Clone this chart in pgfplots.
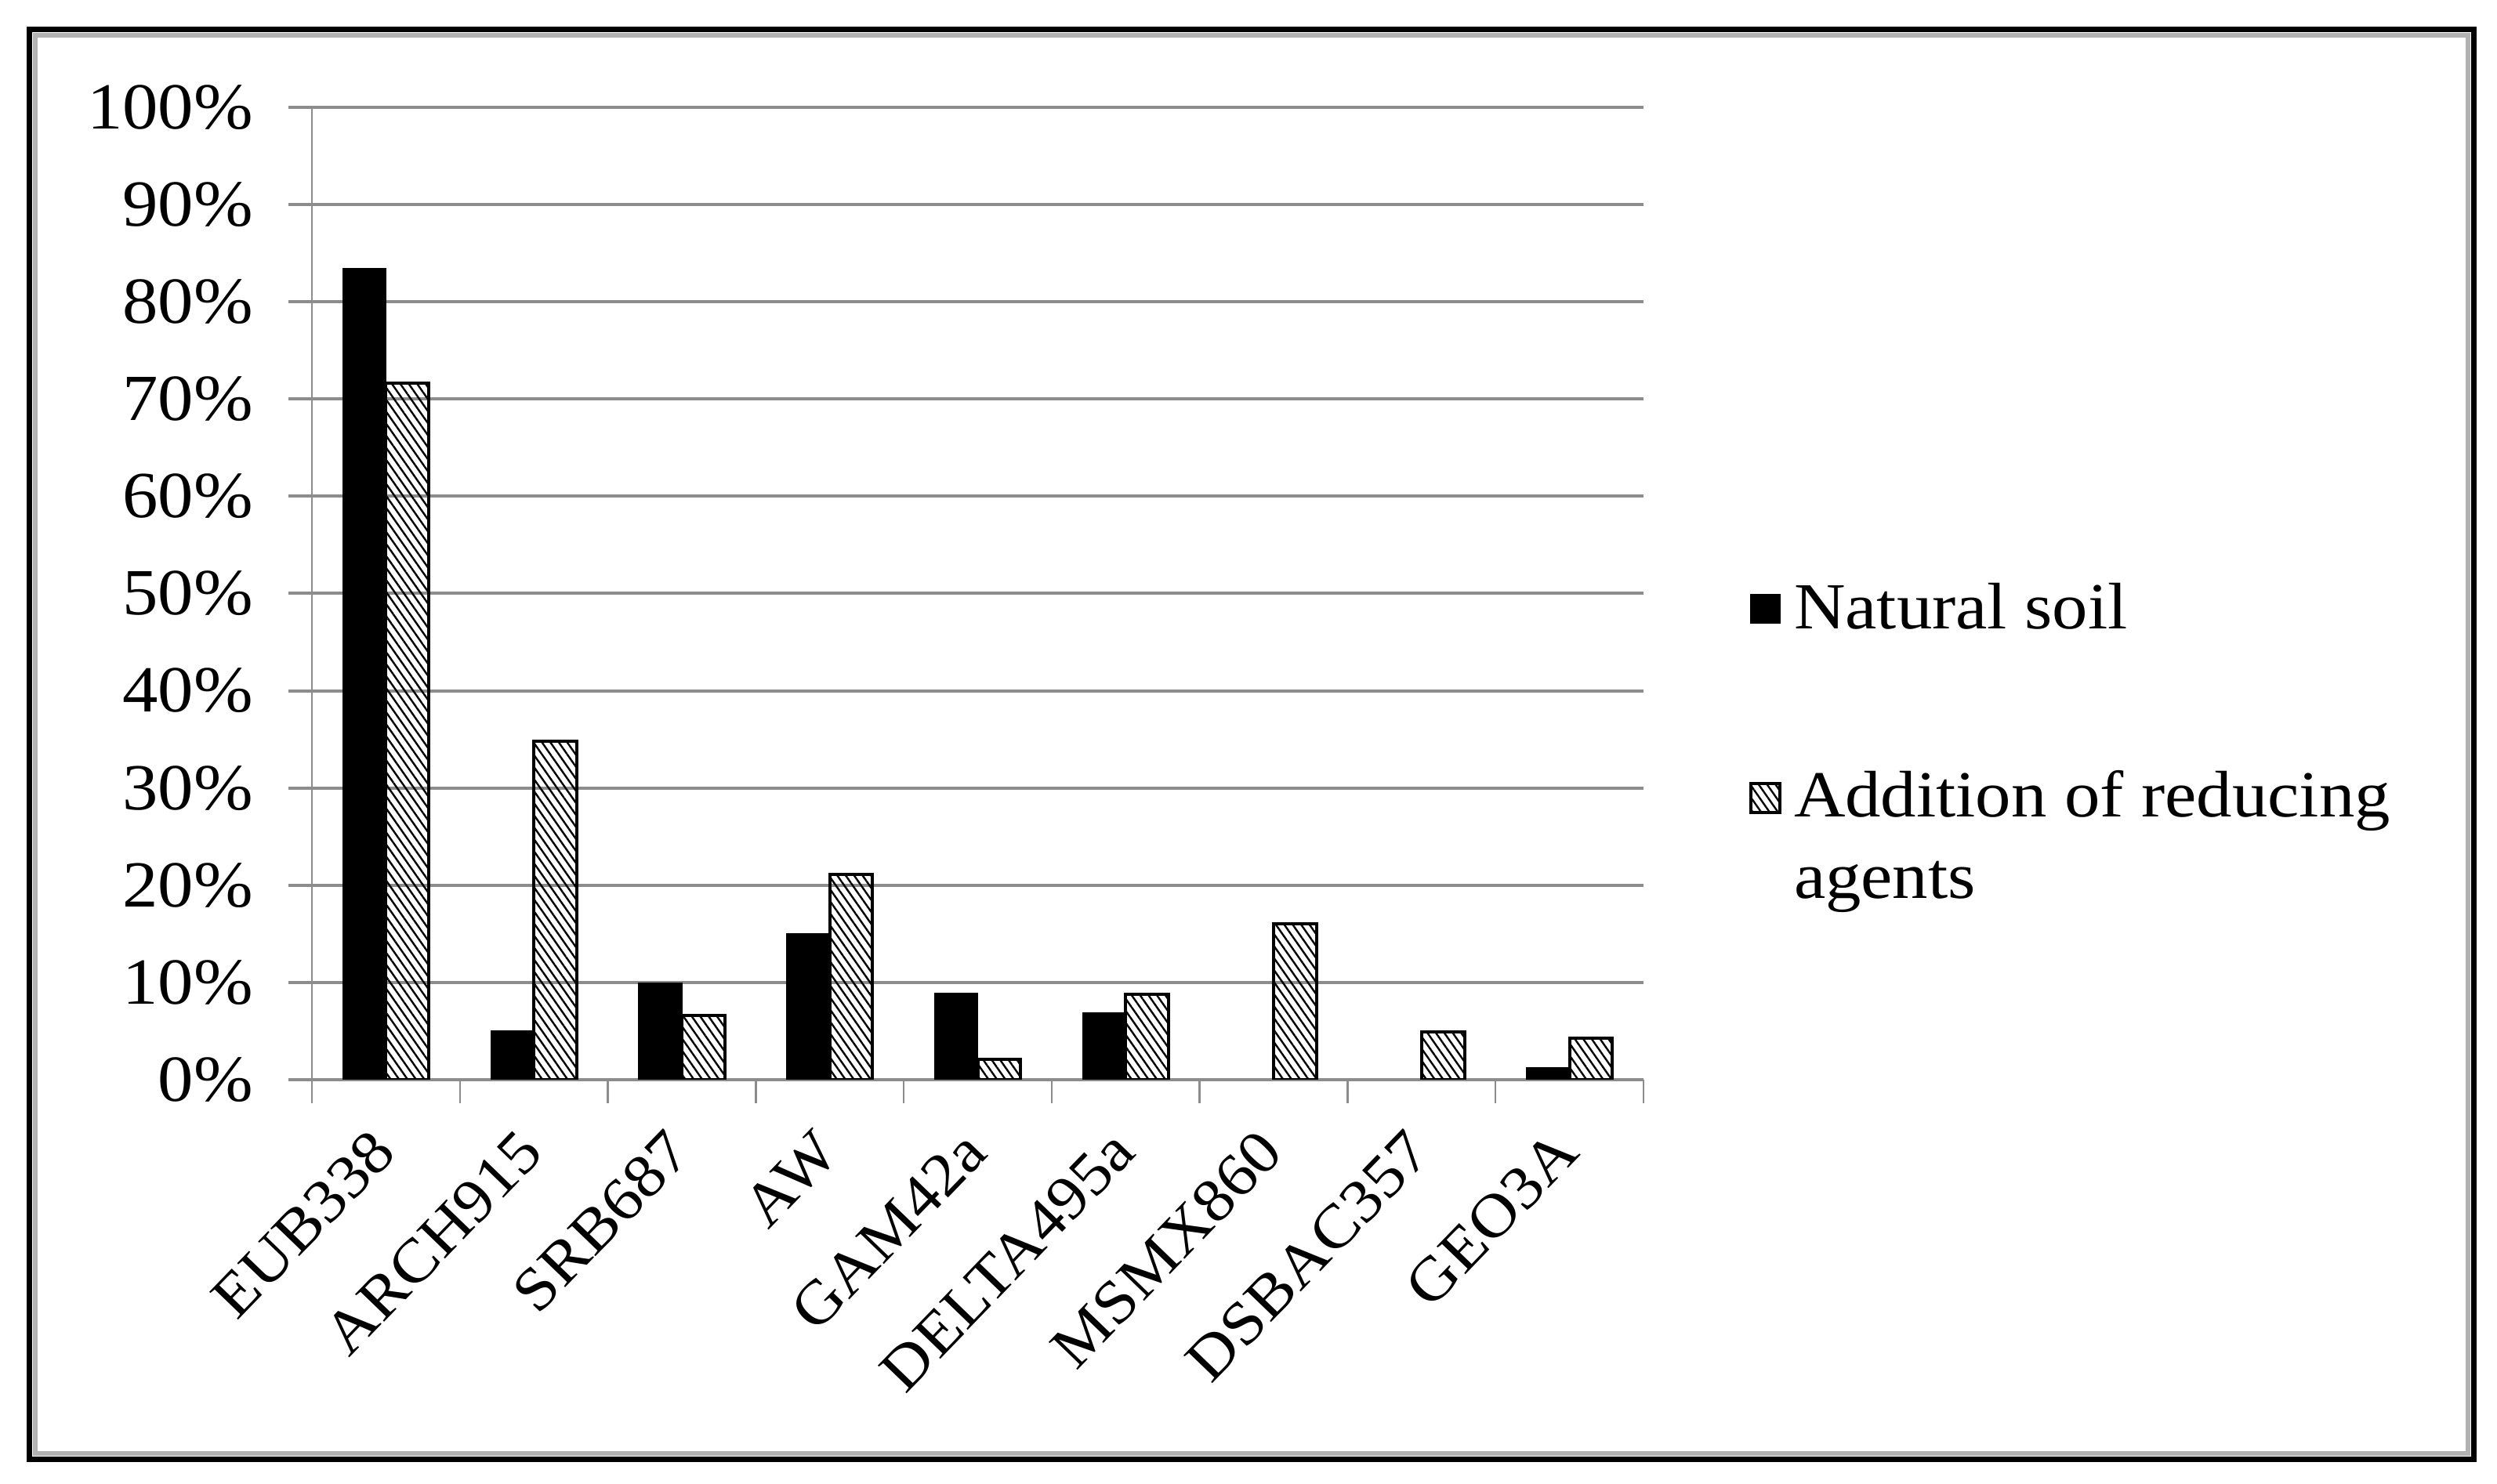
\documentclass[border=0pt]{standalone}
\usepackage{fontspec}
\setmainfont{Liberation Serif}[FakeStretch=1.08]
\usepackage{pgfplots}
\pgfplotsset{compat=1.18}
\usetikzlibrary{patterns.meta}
\pgfplotsset{mybarlegend/.style={legend image code/.code={\draw[##1] (0pt,-4.6pt+#1) rectangle (9.2pt,4.6pt+#1);}}}
\begin{document}
\begin{tikzpicture}
% page frame
\path (0,0) rectangle (796.5pt,473.25pt);
\draw[line width=1.75pt] (9.4pt,7.6pt) rectangle (789.1pt,463.9pt);
\draw[line width=1.5pt, black!30] (11.25pt,9.5pt) rectangle (787.25pt,462pt);
\begin{axis}[
    at={(99.5pt,128.75pt)}, anchor=south west,
    scale only axis, width=424.75pt, height=310.25pt,
    xmin=-0.5, xmax=8.5, ymin=0, ymax=100,
    axis x line*=bottom, axis y line*=left,
    axis line style={draw=black!45, line width=0.6pt},
    tick align=outside,
    major tick length=7.6pt, minor tick length=7.6pt,
    ytick={0,10,...,100},
    yticklabels={0\%,10\%,20\%,30\%,40\%,50\%,60\%,70\%,80\%,90\%,100\%},
    ytick style={draw=black!45, line width=1pt},
    ymajorgrids, grid style={draw=black!45, line width=1pt},
    xtick={0,...,8},
    xticklabels={EUB338,ARCH915,SRB687,AW,GAM42a,DELTA495a,MSMX860,DSBAC357,GEO3A},
    major x tick style={draw=none},
    minor xtick={-0.5,0.5,...,8.5},
    minor x tick style={draw=black!45, line width=0.6pt},
    yticklabel style={font=\fontsize{21}{24.5}\selectfont, anchor=east, inner sep=0pt, xshift=-11pt},
    xticklabel style={font=\fontsize{19.5}{23}\selectfont, rotate=46, anchor=north east,
        inner sep=2pt, xshift=-7pt, yshift=1pt},
    legend style={at={(1.0791,0.511)}, anchor=north west, draw=none, fill=none,
        inner sep=0pt, column sep=4pt, row sep=43.5pt,
        nodes={inner sep=0pt, align=left},
        font=\fontsize{21}{24.5}\selectfont},
    legend cell align=left,
]
\addplot[ybar, bar width=0.29, bar shift=-0.145, fill=black, draw=black, mybarlegend=0pt]
    coordinates {(0,83.4) (1,5) (2,9.9) (3,15) (4,8.9) (5,6.9) (8,1.2)};
\addplot[ybar, bar width=0.29, bar shift=0.145, draw=black, line width=1pt,
    pattern={Lines[angle=-55,distance=2.2pt,line width=0.6pt]}, mybarlegend=12.25pt]
    coordinates {(0,71.6) (1,34.8) (2,6.6) (3,21.1) (4,2.1) (5,8.8) (6,16) (7,4.9) (8,4.3)};
\legend{Natural soil,{Addition of reducing\\[1.5pt]agents}}
\end{axis}
\end{tikzpicture}
\end{document}
